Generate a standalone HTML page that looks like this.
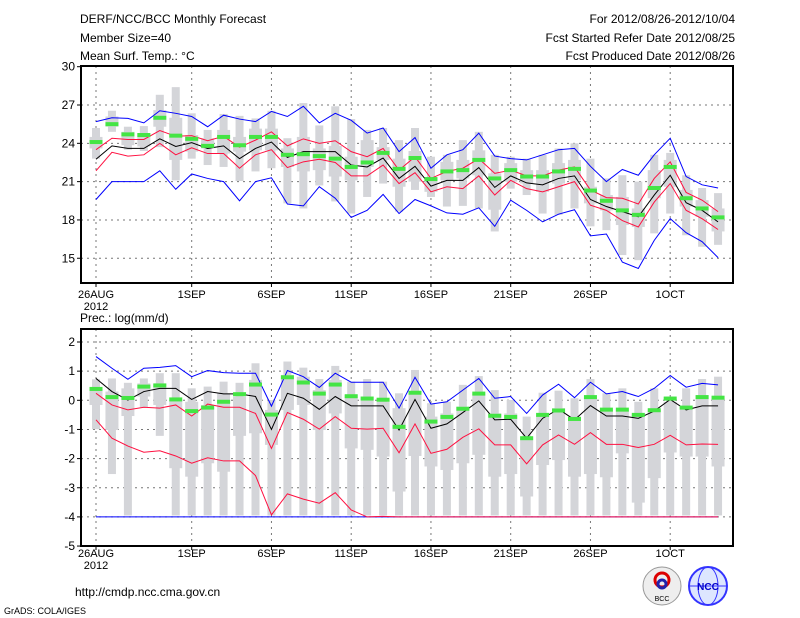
<!DOCTYPE html>
<html><head><meta charset="utf-8"><style>
html,body{margin:0;padding:0;background:#fff;}
svg{display:block;font-family:"Liberation Sans",sans-serif;}
text{font-size:12px;fill:#000;}
</style></head><body>
<svg id="chart" width="800" height="618" viewBox="0 0 800 618">
<text x="80" y="23">DERF/NCC/BCC Monthly Forecast</text>
<text x="80" y="42">Member Size=40</text>
<text x="80" y="60">Mean Surf. Temp.: °C</text>
<text x="735" y="23" text-anchor="end">For 2012/08/26-2012/10/04</text>
<text x="735" y="42" text-anchor="end">Fcst Started Refer Date 2012/08/25</text>
<text x="735" y="60" text-anchor="end">Fcst Produced Date 2012/08/26</text>
<text x="80" y="322">Prec.: log(mm/d)</text>
<text x="75" y="596">http://cmdp.ncc.cma.gov.cn</text>
<text x="4" y="614" style="font-size:9px">GrADS: COLA/IGES</text>
<g>
<circle cx="662" cy="586" r="19" fill="#eee" stroke="#999"/>
<circle cx="662" cy="580" r="7" fill="none" stroke="#d00" stroke-width="3"/>
<circle cx="662" cy="584" r="4" fill="none" stroke="#22a" stroke-width="3"/>
<text x="662" y="601" text-anchor="middle" style="font-size:7px">BCC</text>
</g>
<g>
<circle cx="708" cy="586" r="19" fill="#dde6ff" stroke="#33f" stroke-width="2"/>
<ellipse cx="708" cy="586" rx="10" ry="19" fill="none" stroke="#33f"/>
<line x1="689" y1="586" x2="727" y2="586" stroke="#33f"/>
<text x="708" y="590" text-anchor="middle" style="font-size:10px;fill:#00c;font-weight:bold">NCC</text>
</g>
</svg>
<script>
const days = ["26AUG","1SEP","6SEP","11SEP","16SEP","21SEP","26SEP","1OCT"];
const dayIdx = [0,6,11,16,21,26,31,36];
const tTicks = [15,18,21,24,27,30];
const pTicks = [-5,-4,-3,-2,-1,0,1,2];
const tBlueHi=[25.7,26.0,25.95,25.6,26.55,26.35,26.1,25.3,26.2,25.9,25.7,26.5,26.1,26.9,25.6,26.35,25.8,24.8,25.2,23.35,24.45,22.05,23.1,23.5,24.8,23.0,22.8,22.7,23.1,23.5,23.6,22.2,21.0,21.95,21.5,23.1,24.4,21.4,20.75,20.5];
const tRedHi=[23.5,24.4,24.3,24.3,25.0,24.55,24.6,24.2,24.55,23.7,24.25,24.9,23.8,24.35,24.0,24.2,23.35,22.95,23.6,21.9,22.95,21.25,21.8,22.05,22.8,21.65,21.9,21.45,21.45,21.9,22.15,20.35,19.75,19.7,19.25,21.25,22.55,20.15,19.55,18.65];
const tMean=[22.75,23.8,23.6,23.6,24.35,23.75,24.05,23.6,23.8,22.8,23.6,24.1,22.9,23.35,23.35,23.35,22.3,22.15,22.85,21.25,22.2,20.65,21.1,21.1,22.1,20.55,21.45,20.9,20.75,21.25,21.45,19.6,19.05,18.65,18.25,19.95,21.5,19.35,18.75,17.85];
const tRedLo=[21.85,23.3,23.0,23.1,24.0,23.1,23.65,23.2,23.2,22.05,23.1,23.5,22.1,22.55,22.75,22.5,21.45,21.45,22.3,20.85,21.7,20.2,20.6,20.45,21.45,19.95,21.1,20.45,20.2,20.6,21.0,19.15,18.75,17.95,17.45,19.4,20.85,18.75,18.1,17.25];
const tBlueLo=[19.6,21.0,21.0,21.0,21.85,20.4,21.6,21.25,21.0,19.5,21.0,21.3,19.25,19.1,20.6,19.7,18.2,18.75,20.0,18.5,19.6,19.1,18.55,18.45,18.95,17.5,19.55,18.75,17.85,18.45,18.8,16.75,16.9,14.7,14.2,16.4,18.1,17.0,16.3,15.05];
const tGreen=[24.1,25.5,24.7,24.65,26.0,24.6,24.35,23.8,24.5,23.85,24.5,24.5,23.1,23.15,23.0,22.8,22.15,22.5,23.25,22.0,22.85,21.2,21.8,21.9,22.7,21.25,21.9,21.4,21.4,21.8,22.0,20.3,19.5,18.75,18.4,20.5,22.15,19.7,18.9,18.2];
const tWhHi=[25.2,26.55,25.3,25.35,27.8,28.4,26.35,25.05,26.3,26.15,25.95,26.55,24.4,27.15,25.4,26.9,25.9,25.05,25.2,24.25,25.2,22.95,23.1,24.25,24.9,23.1,22.95,22.8,23.1,23.6,24.0,22.8,21.25,21.5,21.0,23.1,23.25,21.5,20.5,20.1];
const tWhLo=[22.8,24.9,23.5,23.4,23.7,21.1,22.8,22.3,22.15,21.05,21.8,22.05,19.3,18.9,20.7,19.45,18.5,19.8,20.85,18.65,20.35,19.8,19.05,19.1,18.9,17.1,20.45,19.95,18.5,18.4,18.9,17.5,17.2,15.25,14.85,16.95,18.5,16.8,15.9,16.05];
const tBoxHi=[24.5,26.1,24.9,24.8,26.6,26.0,24.65,24.4,25.05,24.5,25.15,25.15,23.6,24.5,23.6,23.8,22.95,24.25,23.7,22.8,23.4,21.25,22.55,22.7,23.45,21.65,22.45,21.9,21.9,22.45,22.7,20.6,19.95,19.8,18.9,21.9,22.7,20.35,19.55,18.9];
const tBoxLo=[23.6,25.3,23.85,23.75,25.3,22.7,23.35,23.6,23.2,23.35,23.45,23.45,22.15,21.8,21.9,21.4,21.1,22.15,22.7,20.6,21.0,20.2,21.1,21.25,21.5,18.8,21.0,20.85,20.2,20.85,21.1,19.3,18.75,17.6,17.45,19.7,20.6,19.05,18.25,17.1];
const pBlueHi=[1.5,1.1,0.72,1.1,1.13,1.19,0.81,1.02,0.95,0.93,0.93,-0.2,1.02,0.81,0.44,0.93,0.62,0.62,0.62,-0.27,0.79,-0.13,-0.05,0.35,0.75,0.07,0.13,-0.45,0.18,0.55,0.09,0.62,0.22,0.3,0.13,0.41,0.85,0.45,0.58,0.53];
const pMean=[0.75,0.3,0.01,0.3,0.41,0.41,0.03,0.3,0.22,0.22,0.13,-1.0,0.24,0.07,-0.31,0.13,-0.19,-0.19,-0.19,-1.02,0.03,-0.96,-0.81,-0.42,-0.02,-0.67,-0.65,-1.3,-0.62,-0.3,-0.67,-0.18,-0.54,-0.54,-0.62,-0.37,0.03,-0.33,-0.19,-0.19];
const pRedHi=[0.24,-0.16,-0.33,-0.24,-0.27,-0.16,-0.54,-0.13,-0.24,-0.24,-0.45,-1.65,-0.42,-0.65,-0.99,-0.56,-0.96,-0.99,-0.96,-1.8,-0.81,-1.82,-1.68,-1.27,-0.98,-1.53,-1.53,-2.18,-1.53,-1.19,-1.51,-1.11,-1.51,-1.51,-1.62,-1.51,-1.2,-1.53,-1.5,-1.51];
const pRedLo=[-0.67,-1.3,-1.57,-1.78,-1.73,-1.91,-2.16,-1.97,-2.08,-2.08,-2.58,-3.93,-3.21,-3.39,-3.53,-3.17,-3.76,-4,-3.98,-4,-4,-4,-4,-4,-4,-4,-4,-4,-4,-4,-4,-4,-4,-4,-4,-4,-4,-4,-4,-4];
const pBlueLo=[-4,-4,-4,-4,-4,-4,-4,-4,-4,-4,-4,-4,-4,-4,-4,-4,-4,-4,-4,-4,-4,-4,-4,-4,-4,-4,-4,-4,-4,-4,-4,-4,-4,-4,-4,-4,-4,-4,-4,-4];
const pGreen=[0.39,0.11,0.08,0.47,0.51,0.03,-0.37,-0.25,-0.05,0.21,0.54,-0.49,0.79,0.61,0.23,0.54,0.14,0.06,0.02,-0.91,0.26,-0.73,-0.57,-0.29,0.23,-0.53,-0.57,-1.3,-0.5,-0.35,-0.64,0.11,-0.32,-0.32,-0.5,-0.34,0.06,-0.25,0.11,0.09];
const pWhHi=[0.72,0.75,0.6,0.75,0.93,0.93,0.41,0.47,0.64,0.6,1.27,0.01,1.33,1.12,0.73,1.18,0.64,0.73,0.64,0.24,1.04,-0.1,-0.05,0.53,0.83,0.35,0.01,-0.56,0.26,0.33,0.07,0.73,0.24,0.41,-0.05,0.41,0.13,0.41,0.73,0.81];
const pWhLo=[-0.99,-2.53,-3.95,-0.24,-1.22,-3.95,-3.95,-3.95,-3.95,-3.95,-3.95,-3.95,-3.95,-3.95,-3.95,-3.95,-3.95,-3.95,-3.95,-3.95,-3.95,-3.95,-3.95,-3.95,-3.95,-3.95,-3.95,-3.95,-3.95,-3.95,-3.95,-3.95,-3.95,-3.95,-3.95,-3.95,-3.95,-3.95,-3.95,-3.95];
const pBoxHi=[0.41,0.3,0.41,0.58,0.58,0.01,-0.05,-0.16,0.24,0.13,0.7,-0.33,0.87,0.81,0.35,0.7,0.18,0.13,-0.05,-0.27,0.3,-0.56,-0.45,-0.22,0.24,-0.45,-0.45,-1.25,-0.5,-0.27,-0.56,0.07,-0.33,-0.33,-0.45,-0.33,-0.05,-0.22,0.18,0.07];
const pBoxLo=[-0.16,-1.02,-0.54,0.13,-0.16,-2.33,-2.62,-2.16,-2.45,-1.22,-1.13,-1.53,-0.33,-0.16,-1.02,-0.45,-1.65,-1.7,-1.93,-3.13,-1.91,-2.27,-2.39,-2.16,-1.87,-2.62,-2.53,-3.3,-2.22,-2.05,-2.62,-2.53,-2.64,-1.82,-3.51,-2.67,-1.79,-1.93,-1.93,-2.27];

const NS='http://www.w3.org/2000/svg';
const svg=document.getElementById('chart');
const L=81,R=733,X0=96,DX=15.95;
const xOf=i=>X0+DX*i;
function mk(tag,attrs,parent){const e=document.createElementNS(NS,tag);for(const k in attrs)e.setAttribute(k,attrs[k]);(parent||svg).appendChild(e);return e;}

function panel(name,top,bot,yOf,ticks,tickFmt,d,labelY){
  const g=mk('g',{});
  
  
  ticks.forEach(t=>{const y=yOf(t);if(y>top+1&&y<bot-1){const l=mk('line',{x1:L,x2:R,y1:y,y2:y,stroke:'#777','stroke-dasharray':'2,4'},g);}});
  dayIdx.forEach(i=>{const l=mk('line',{x1:xOf(i),x2:xOf(i),y1:top,y2:bot,stroke:'#777','stroke-dasharray':'2,4'},g);});
  for(let i=0;i<40;i++){
    const x=xOf(i);
    const w=mk('rect',{x:x-4,width:8,y:yOf(d.whHi[i]),height:Math.max(0,yOf(d.whLo[i])-yOf(d.whHi[i])),fill:'#d4d5d9'},g);
    
    
    const b=mk('rect',{x:x-6.5,width:13,y:yOf(d.bxHi[i]),height:Math.max(0,yOf(d.bxLo[i])-yOf(d.bxHi[i])),fill:'#d4d5d9'},g);
    
    
  }
  const line=(arr,col,nm)=>{const p=mk('polyline',{points:arr.map((v,i)=>xOf(i)+','+yOf(v)).join(' '),fill:'none',stroke:col,'stroke-width':1},g);};
  line(d.blueLo,'#0000ff','lower-blue-line');
  line(d.blueHi,'#0000ff','upper-blue-line');
  line(d.redLo,'#ff1040','lower-red-line');
  line(d.redHi,'#ff1040','upper-red-line');
  line(d.mean,'#000','ensemble-mean-line');
  for(let i=0;i<40;i++){
    const r=mk('rect',{x:xOf(i)-6.5,width:13,y:yOf(d.green[i])-2,height:4,fill:'#44e544'},g);
    
    
  }
  const f=mk('rect',{x:L,y:top,width:R-L,height:bot-top,fill:'none',stroke:'#000','stroke-width':2},g);
  
  
  ticks.forEach(t=>{const y=yOf(t);
    const tk=mk('line',{x1:L-4,x2:L,y1:y,y2:y,stroke:'#000'},g);
    
    
    const tx=mk('text',{x:L-6,y:y+4,'text-anchor':'end'},g);tx.textContent=tickFmt(t);
    
    });
  days.forEach((s,k)=>{const x=xOf(dayIdx[k]);
    const tk=mk('line',{x1:x,x2:x,y1:bot,y2:bot+4,stroke:'#000'},g);
    
    
    const tx=mk('text',{x:x,y:labelY,'text-anchor':'middle',style:'font-size:11px'},g);tx.textContent=s;
    
    });
  const yr=mk('text',{x:xOf(0),y:labelY+12,'text-anchor':'middle',style:'font-size:11px'},g);yr.textContent='2012';
  
  
}
const yT=v=>66.7+(30-v)*12.77;
panel('temperature-panel',66,283,yT,tTicks,t=>String(t),{whHi:tWhHi,whLo:tWhLo,bxHi:tBoxHi,bxLo:tBoxLo,blueHi:tBlueHi,blueLo:tBlueLo,redHi:tRedHi,redLo:tRedLo,mean:tMean,green:tGreen},298);
const yP=v=>400.3-v*29.15;
panel('precipitation-panel',329,546,yP,pTicks,t=>String(t),{whHi:pWhHi,whLo:pWhLo,bxHi:pBoxHi,bxLo:pBoxLo,blueHi:pBlueHi,blueLo:pBlueLo,redHi:pRedHi,redLo:pRedLo,mean:pMean,green:pGreen},557);
</script>
</body></html>
